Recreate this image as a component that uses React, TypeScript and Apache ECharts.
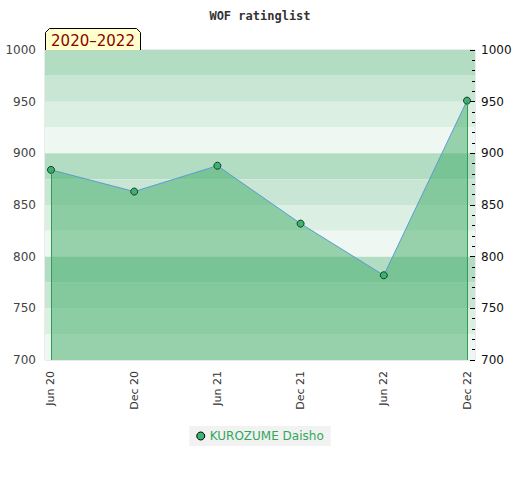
import React, { useEffect, useRef } from "react";
import * as echarts from "echarts";

const categories = ["Jun 20", "Dec 20", "Jun 21", "Dec 21", "Jun 22", "Dec 22"];
const ratings = [884, 863, 888, 832, 782, 951];
const playerName = "KUROZUME Daisho";
const titleText = "WOF ratinglist";
const periodText = "2020–2022";
const yTicks = [700, 750, 800, 850, 900, 950, 1000];
const bandEdges = [1000, 975, 950, 925, 900, 875, 850, 825, 800, 775, 750, 725, 700];
const bandPalette = ["#b3ddc3", "#c9e6d4", "#dcefe3", "#eff7f2"];

export default function App() {
  const ref = useRef<HTMLDivElement>(null);
  useEffect(() => {
    document.body.style.margin = "0";
    const chart = echarts.init(ref.current!, null, { renderer: "svg" });
    const yMin = yTicks[0];
    const yMax = yTicks[yTicks.length - 1];
    const points = ratings.map((v, i) => [i, v]);
    const bands = [] as any[];
    for (let i = 0; i < bandEdges.length - 1; i++) {
      bands.push([
        { yAxis: bandEdges[i], itemStyle: { color: bandPalette[i % 4], opacity: 1 } },
        { yAxis: bandEdges[i + 1] },
      ]);
    }
    const last = ratings.length - 1;
    chart.setOption({
      animation: false,
      title: {
        text: titleText,
        left: "center",
        top: 5,
        textStyle: { fontFamily: "DejaVu Sans Mono", fontWeight: "bold", fontSize: 12, color: "#333" },
      },
      grid: {
        left: 45,
        right: 45,
        top: 50,
        bottom: 120,
        show: true,
        borderColor: "#d6d6d6",
        borderWidth: 1,
        backgroundColor: "transparent",
      },
      legend: {
        data: [playerName],
        bottom: 34,
        left: "center",
        icon: "circle",
        itemWidth: 8,
        itemHeight: 8,
        itemGap: 8,
        backgroundColor: "#f2f2f2",
        padding: [4, 7, 4, 7],
        textStyle: { color: "#2fa85a", fontSize: 12, fontFamily: "DejaVu Sans" },
        itemStyle: { borderColor: "#000", borderWidth: 1 },
      },
      xAxis: {
        type: "value",
        min: -0.072,
        max: last + 0.096,
        splitLine: { show: false },
        axisLine: { show: false },
        axisTick: { show: false },
        axisLabel: {
          customValues: categories.map((_, i) => i),
          formatter: (v: number) => categories[Math.round(v)] ?? "",
          rotate: 90,
          fontSize: 11,
          color: "#333",
          fontFamily: "DejaVu Sans",
          margin: 11,
        },
      },
      yAxis: [
        {
          type: "value",
          min: yMin,
          max: yMax,
          interval: 50,
          position: "left",
          splitLine: { show: false },
          axisLine: { show: false },
          axisTick: { show: false },
          axisLabel: {
            fontSize: 12,
            color: "#444",
            fontFamily: "DejaVu Sans",
            margin: 9,
            formatter: (v: number) => String(v),
          },
        },
        {
          type: "value",
          min: yMin,
          max: yMax,
          interval: 50,
          position: "right",
          z: 10,
          splitLine: { show: false },
          axisLine: { show: true, lineStyle: { color: "rgba(0,0,0,0)" } },
          axisTick: { show: true, inside: true, length: 5, lineStyle: { color: "#000", width: 1 } },
          minorTick: { show: true, splitNumber: 5, length: 3, lineStyle: { color: "#000", width: 1 } },
          axisLabel: {
            inside: false,
            fontSize: 12,
            color: "#111",
            fontFamily: "DejaVu Sans",
            margin: 6,
            formatter: (v: number) => String(v),
          },
        },
      ],
      series: [
        {
          type: "line",
          name: "bands",
          data: [],
          z: 1,
          silent: true,
          markArea: { silent: true, z: 1, data: bands },
        },
        {
          type: "line",
          name: playerName,
          data: points,
          z: 3,
          symbol: "circle",
          symbolSize: 7,
          itemStyle: { color: "#3cb371", borderColor: "#1b3b25", borderWidth: 1 },
          lineStyle: { color: "#5b9bd5", width: 1 },
          areaStyle: { color: "rgb(62,172,102)", opacity: 0.5, origin: "start" },
          markLine: {
            silent: true,
            symbol: "none",
            label: { show: false },
            lineStyle: { color: "#2e9e57", width: 1, type: "solid" },
            data: [
              [{ coord: [0, ratings[0]] }, { coord: [0, yMin] }],
              [{ coord: [last, ratings[last]] }, { coord: [last, yMin] }],
            ],
          },
        },
      ],
      graphic: [
        {
          type: "group",
          left: 45,
          top: 28,
          z: 10,
          children: [
            {
              type: "polygon",
              shape: { points: [[0, 23], [0, 4], [4, 0], [91, 0], [95, 4], [95, 23]] },
              style: { fill: "#ffffcc", stroke: "#000", lineWidth: 1 },
            },
            {
              type: "text",
              x: 47.5,
              y: 12.5,
              style: {
                text: periodText,
                fill: "#8b0000",
                font: "15px 'DejaVu Sans'",
                align: "center",
                verticalAlign: "middle",
              },
            },
          ],
        },
      ],
    });
    return () => chart.dispose();
  }, []);
  return <div ref={ref} style={{ width: 520, height: 480 }} />;
}
